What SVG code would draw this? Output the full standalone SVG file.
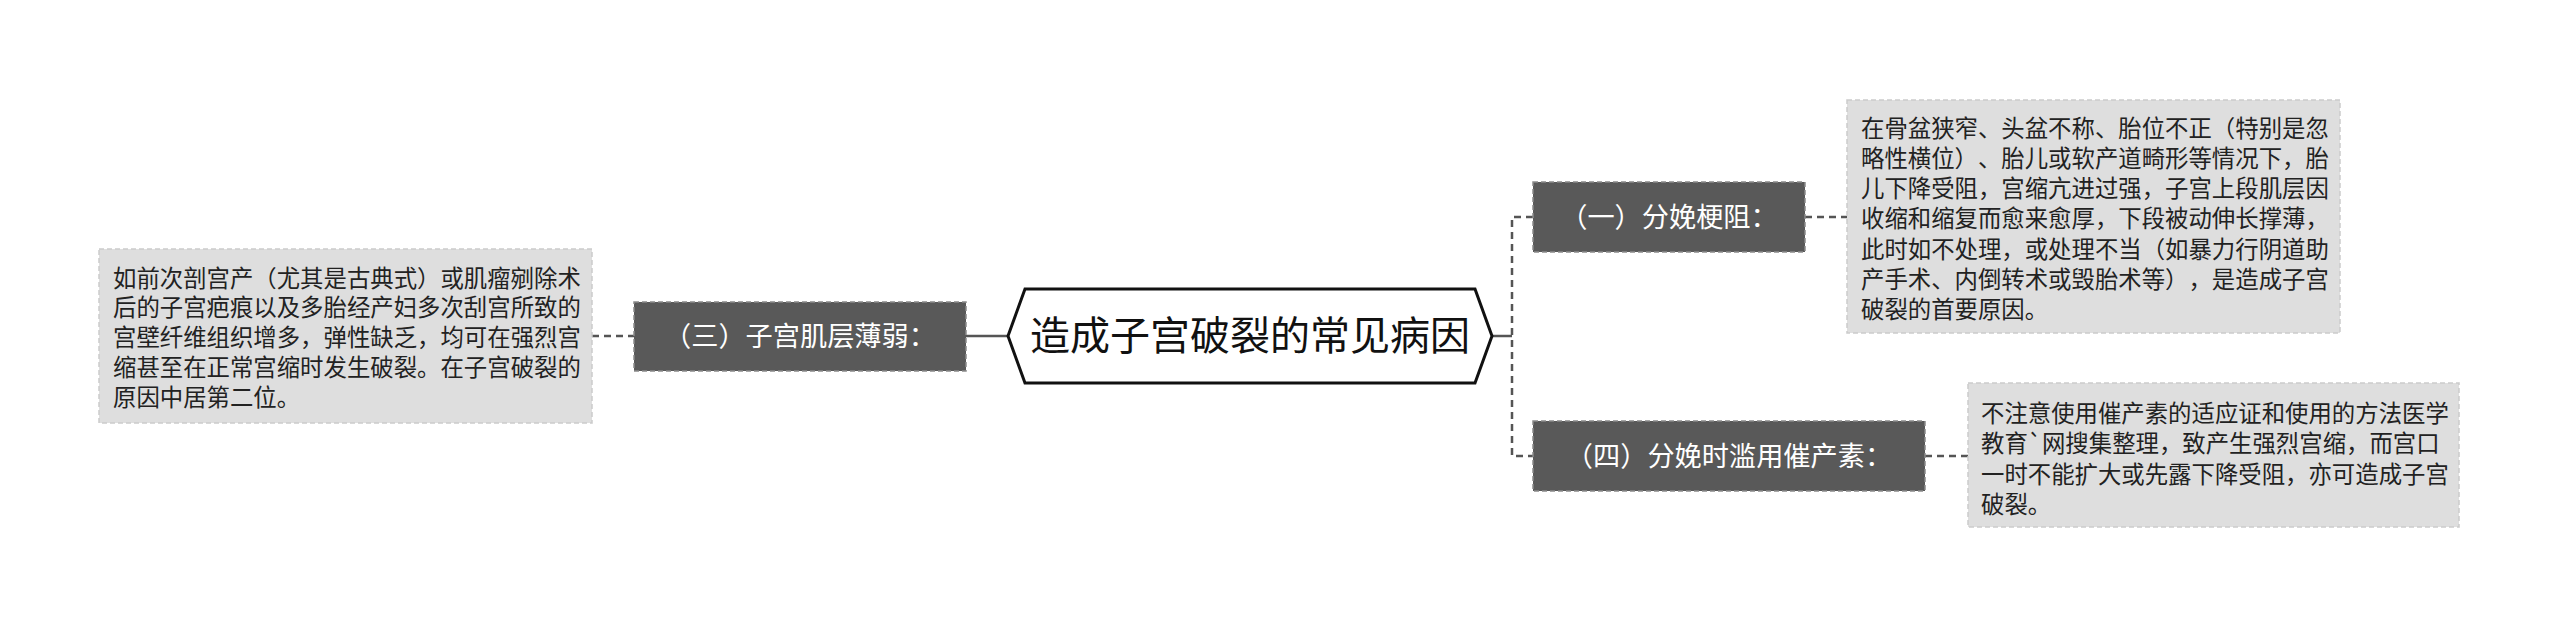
<svg xmlns="http://www.w3.org/2000/svg" width="2560" height="628" viewBox="0 0 2560 628">
<style>
text{text-spacing-trim:space-all}
.leaf{fill:#dedede;stroke:#cbcbcb;stroke-width:1.5;stroke-dasharray:5,3}
.mid{fill:#595959;stroke:#8a8a8a;stroke-width:1.5;stroke-dasharray:5,3}
.lt{font-family:"Noto Sans CJK SC","Noto Sans",sans-serif;font-size:23.4px;fill:#222}
.mt{font-family:"Noto Sans CJK SC","Noto Sans",sans-serif;font-size:27.2px;fill:#ffffff;text-anchor:middle}
.ct{font-family:"Noto Sans CJK SC","Noto Sans",sans-serif;font-size:40px;fill:#111;text-anchor:middle}
.dash{fill:none;stroke:#555;stroke-width:2.5;stroke-dasharray:7,5}
.solid{fill:none;stroke:#555;stroke-width:2.5}
</style>
<rect width="2560" height="628" fill="#ffffff"/>
<g id="connectors">
<line class="solid" x1="966" y1="336" x2="1008" y2="336"/>
<line class="dash" x1="592" y1="336" x2="634" y2="336"/>
<line class="solid" x1="1492" y1="336" x2="1512" y2="336"/>
<polyline class="dash" points="1533,217 1512,217 1512,456 1533,456"/>
<line class="dash" x1="1805" y1="217" x2="1847" y2="217"/>
<line class="dash" x1="1925" y1="456" x2="1968" y2="456"/>
</g>
<g id="center">
<polygon points="1008,336 1025,289 1475,289 1492,336 1475,383 1025,383" fill="#ffffff" stroke="#111" stroke-width="3"/>
<text class="ct" x="1250" y="350">造成子宫破裂的常见病因</text>
</g>
<g id="node-san">
<rect class="mid" x="634" y="302" width="332" height="69"/>
<text class="mt" x="800" y="346">（三）子宫肌层薄弱：</text>
</g>
<g id="leaf-san">
<rect class="leaf" x="99" y="249" width="493" height="174"/>
<text class="lt" x="113" y="286.5">如前次剖宫产（尤其是古典式）或肌瘤剜除术</text>
<text class="lt" x="113" y="316.3">后的子宫疤痕以及多胎经产妇多次刮宫所致的</text>
<text class="lt" x="113" y="346.1">宫壁纤维组织增多，弹性缺乏，均可在强烈宫</text>
<text class="lt" x="113" y="375.9">缩甚至在正常宫缩时发生破裂。在子宫破裂的</text>
<text class="lt" x="113" y="405.7">原因中居第二位。</text>
</g>
<g id="node-yi">
<rect class="mid" x="1533" y="182" width="272" height="70"/>
<text class="mt" x="1669" y="226.5">（一）分娩梗阻：</text>
</g>
<g id="leaf-yi">
<rect class="leaf" x="1847" y="100" width="493" height="233"/>
<text class="lt" x="1861" y="136.5">在骨盆狭窄、头盆不称、胎位不正（特别是忽</text>
<text class="lt" x="1861" y="166.8">略性横位）、胎儿或软产道畸形等情况下，胎</text>
<text class="lt" x="1861" y="197.1">儿下降受阻，宫缩亢进过强，子宫上段肌层因</text>
<text class="lt" x="1861" y="227.4">收缩和缩复而愈来愈厚，下段被动伸长撑薄，</text>
<text class="lt" x="1861" y="257.7">此时如不处理，或处理不当（如暴力行阴道助</text>
<text class="lt" x="1861" y="288">产手术、内倒转术或毁胎术等），是造成子宫</text>
<text class="lt" x="1861" y="318.3">破裂的首要原因。</text>
</g>
<g id="node-si">
<rect class="mid" x="1533" y="421" width="392" height="70"/>
<text class="mt" x="1729" y="465.5">（四）分娩时滥用催产素：</text>
</g>
<g id="leaf-si">
<rect class="leaf" x="1968" y="383" width="491" height="144"/>
<text class="lt" x="1981" y="421.5">不注意使用催产素的适应证和使用的方法医学</text>
<text class="lt" x="1981" y="452">教育`网搜集整理，致产生强烈宫缩，而宫口</text>
<text class="lt" x="1981" y="482.5">一时不能扩大或先露下降受阻，亦可造成子宫</text>
<text class="lt" x="1981" y="513">破裂。</text>
</g>
</svg>
